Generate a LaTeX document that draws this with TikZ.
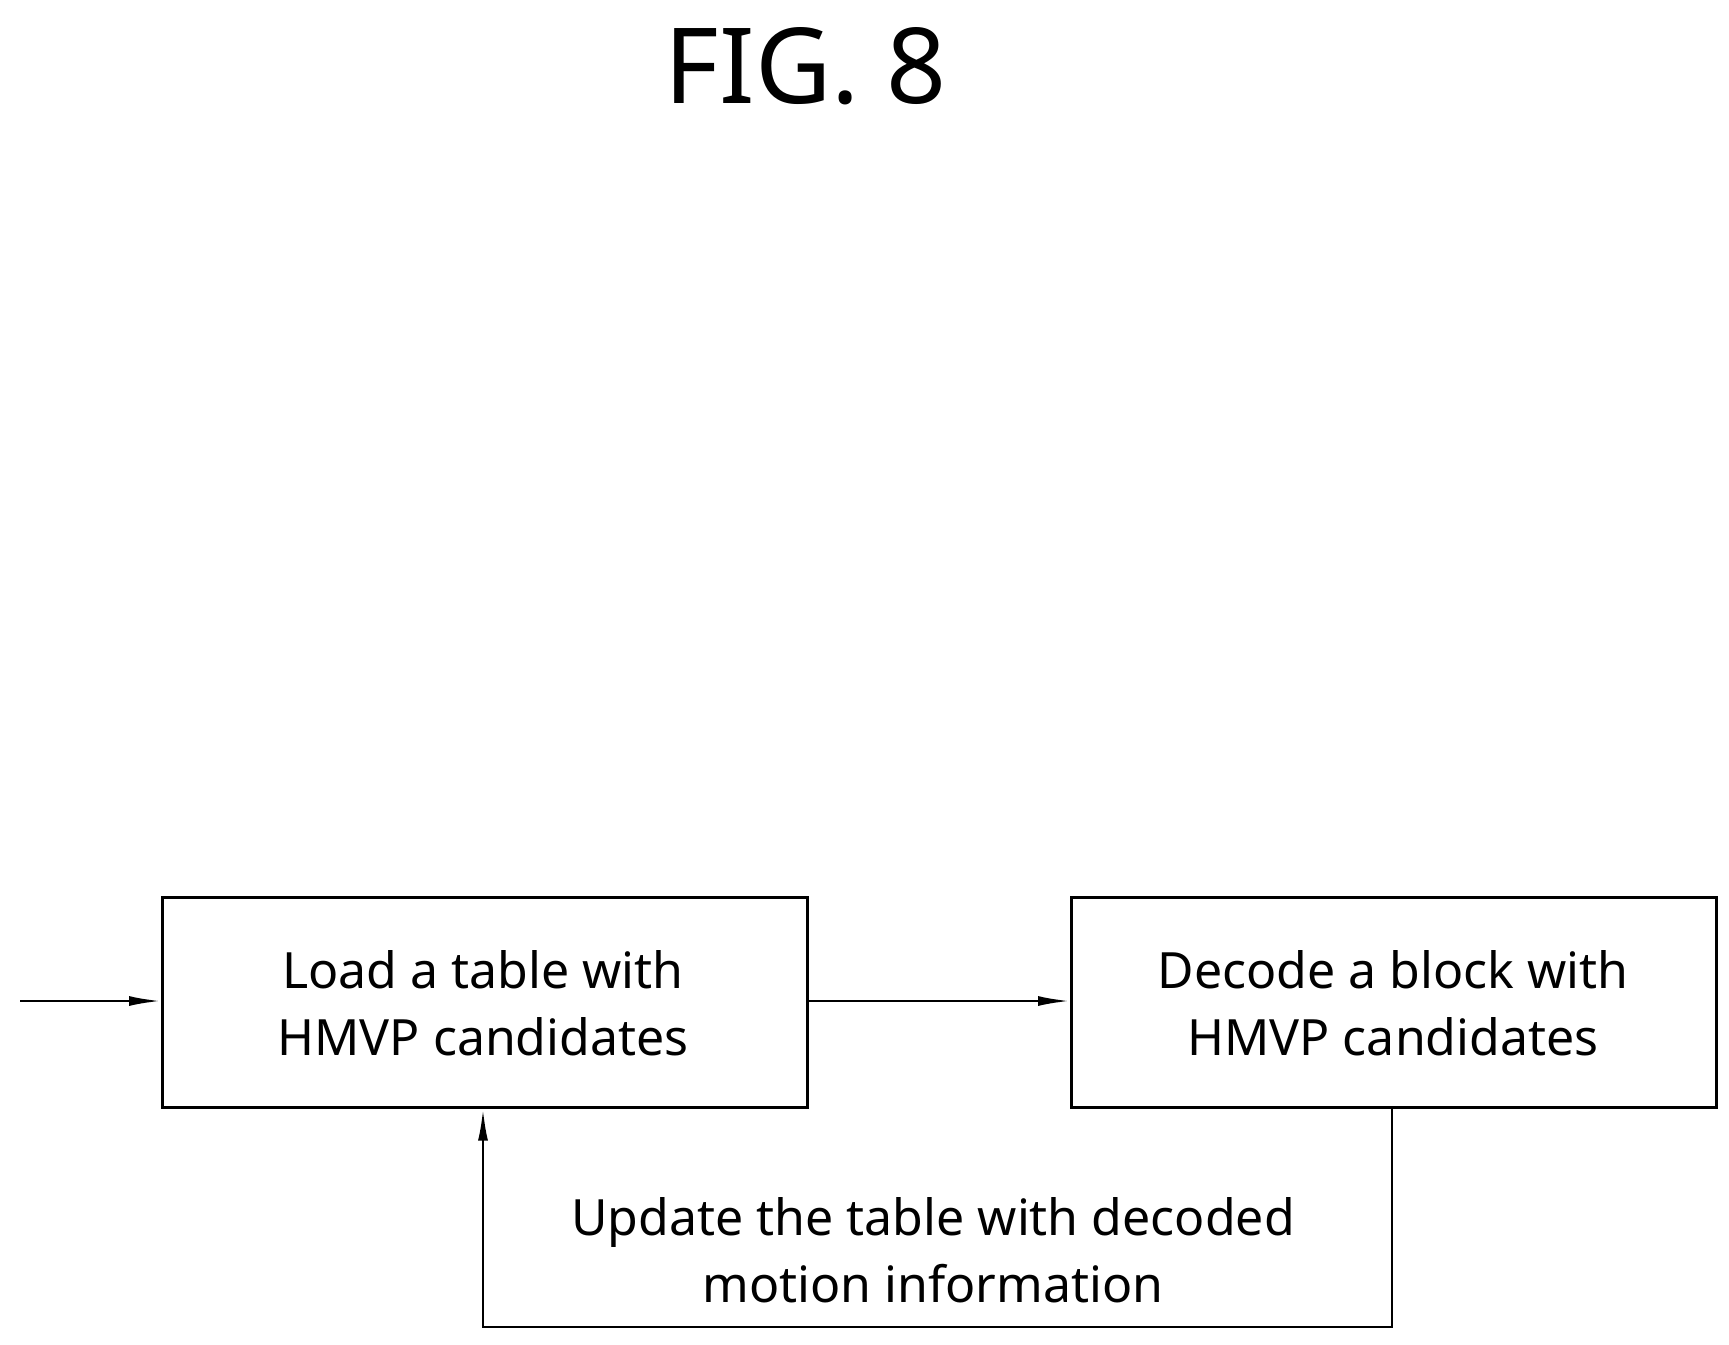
\documentclass[tikz,border=0pt]{standalone}
\usepackage{fontspec}
\setmainfont{Noto Sans}
\usetikzlibrary{arrows.meta}
\begin{document}
\begin{tikzpicture}[x=1pt,y=-1pt,line width=2.6pt,
  box/.style={draw,minimum width=645pt,minimum height=210pt,anchor=north west,inner sep=0pt},
  txt/.style={font=\fontsize{50}{67}\selectfont,align=center},
  arr/.style={-{Latex[length=32pt,width=10pt]}}]
\useasboundingbox (0,0) rectangle (1729,1344);
\node[font=\fontsize{105}{110}\selectfont] (title) at (806,66) {FIG. 8};
\node[box] (b1) at (161,896) {};
\node[box] (b2) at (1070,896) {};
\node[txt] (t1) at (483,1003) {Load a table with\\HMVP candidates};
\node[txt] (t2) at (1393,1003) {Decode a block with\\HMVP candidates};
\node[txt] (t3) at (933,1250) {Update the table with decoded\\motion information};
\coordinate (in) at (20,1001);
\coordinate (c1) at (1392,1327);
\coordinate (c2) at (483,1327);
\draw[arr] (in) -- (b1.west |- in);
\draw[arr] (b1.east |- in) -- (b2.west |- in);
\draw[arr] (b2.south -| c1) -- (c1) -- (c2) -- (b1.south -| c2);
\end{tikzpicture}
\end{document}
